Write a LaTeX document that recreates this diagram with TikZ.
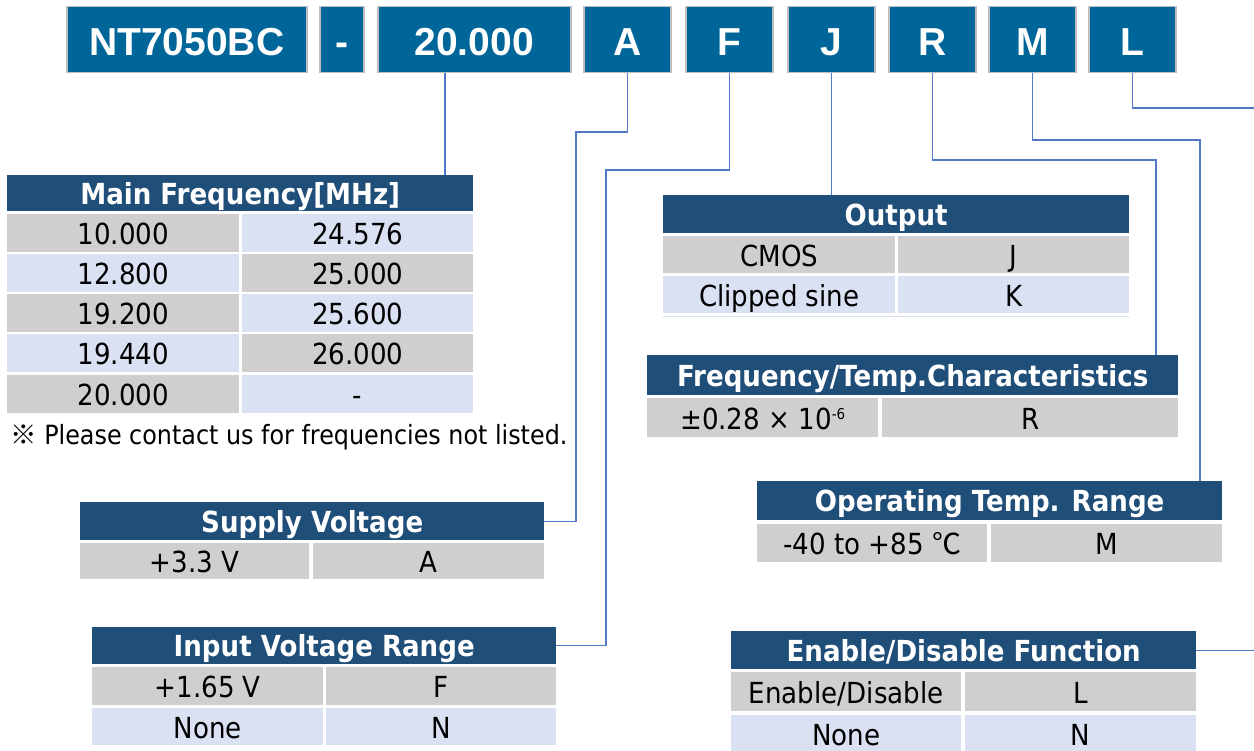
\documentclass[tikz,border=0pt]{standalone}
\usepackage{fontspec}
\usepackage{tikz}
\usetikzlibrary{positioning}
\newfontfamily\tabfont[FakeStretch=0.9]{DejaVu Sans}
\newfontfamily\codefamily{Liberation Sans}
\newfontfamily\cjk{Noto Sans CJK JP}
\definecolor{codeblue}{RGB}{0,102,153}
\definecolor{codeedge}{RGB}{190,190,190}
\definecolor{headblue}{RGB}{31,78,121}
\definecolor{cellgray}{RGB}{208,206,206}
\definecolor{cellblue}{RGB}{217,225,242}
\definecolor{linkblue}{RGB}{82,120,200}
\tikzset{
    code/.style={draw=codeedge, line width=1.5pt, fill=codeblue, text=white, anchor=north west, inner sep=0pt, minimum height=66, text height=32pt, text depth=0pt, font=\codefamily\bfseries\fontsize{39}{42}\selectfont},
    head/.style={fill=headblue, text=white, anchor=north west, inner sep=0pt, minimum width=466, minimum height=38, text height=22pt, text depth=0pt, font=\tabfont\bfseries\fontsize{29}{32}\selectfont},
    grey/.style={fill=cellgray, anchor=north west, inner sep=0pt, minimum height=38, text height=23pt, text depth=0pt, font=\tabfont\fontsize{29}{32}\selectfont},
    lite/.style={grey, fill=cellblue},
    conn/.style={-, linkblue, line width=1.2pt},
}
\newcommand{\smallexp}[1]{\raisebox{10pt}{\fontsize{15}{15}\selectfont #1}}

\begin{document}
\begin{tikzpicture}[x=1pt, y=-1pt]
    \useasboundingbox (0,0) rectangle (1254,751);

    % part number
    \node[code, minimum width=240] (cBase) at (66,6) {NT7050BC};
    \node[code, minimum width=44] (cDash) at (319,6) {-};
    \node[code, minimum width=193] (cFreq) at (377,6) {20.000};
    \node[code, minimum width=87] (cA) at (583,6) {A};
    \node[code, minimum width=87] (cF) at (685,6) {F};
    \node[code, minimum width=87] (cJ) at (787,6) {J};
    \node[code, minimum width=87] (cR) at (888,6) {R};
    \node[code, minimum width=87] (cM) at (988,6) {M};
    \node[code, minimum width=87] (cL) at (1088,6) {L};

    % main frequency
    \node[head, minimum height=36] (mfHead) at (7,175) {Main Frequency[MHz]};
    \node[grey, minimum width=232] (mf11) at (7,214) {10.000};
    \node[lite, minimum width=231] (mf12) at (242,214) {24.576};
    \node[lite, minimum width=232] (mf21) at (7,254) {12.800};
    \node[grey, minimum width=231] (mf22) at (242,254) {25.000};
    \node[grey, minimum width=232] (mf31) at (7,294) {19.200};
    \node[lite, minimum width=231] (mf32) at (242,294) {25.600};
    \node[lite, minimum width=232] (mf41) at (7,334) {19.440};
    \node[grey, minimum width=231] (mf42) at (242,334) {26.000};
    \node[grey, minimum width=232] (mf51) at (7,375) {20.000};
    \node[lite, minimum width=231] (mf52) at (242,375) {-};
    \node[anchor=west, inner sep=0pt, font=\tabfont\fontsize{26.5}{28}\selectfont] (mfNote) at (10,437) {{\cjk ※} Please contact us for frequencies not listed.};

    % output
    \node[head] (outHead) at (663,195) {Output};
    \node[grey, minimum width=232, minimum height=37] (out11) at (663,236) {CMOS};
    \node[grey, minimum width=231, minimum height=37] (out12) at (898,236) {J};
    \node[lite, minimum width=232, minimum height=37] (out21) at (663,276) {Clipped sine};
    \node[lite, minimum width=231, minimum height=37] (out22) at (898,276) {K};
    \draw[cellblue, line width=1.5pt] ([yshift=-3pt]out21.south west) -- ([yshift=-3pt]out22.south east);

    % frequency / temp
    \node[head, minimum width=531, minimum height=40] (ftHead) at (647,355) {Frequency/Temp.Characteristics};
    \node[grey, minimum width=231, minimum height=39] (ft11) at (647,398) {±0.28 × 10\smallexp{-6}};
    \node[grey, minimum width=296, minimum height=39] (ft12) at (882,398) {R};

    % operating temp
    \node[head, minimum width=465, minimum height=39] (otHead) at (757,481) {Operating Temp. Range};
    \node[grey, minimum width=230] (ot11) at (757,524) {-40 to +85 {\cjk ℃}};
    \node[grey, minimum width=231] (ot12) at (991,524) {M};

    % supply voltage
    \node[head, minimum width=464] (svHead) at (80,502) {Supply Voltage};
    \node[grey, minimum width=229, minimum height=36] (sv11) at (80,543) {+3.3 V};
    \node[grey, minimum width=231, minimum height=36] (sv12) at (313,543) {A};

    % input voltage
    \node[head, minimum width=464, minimum height=37] (ivHead) at (92,627) {Input Voltage Range};
    \node[grey, minimum width=231] (iv11) at (92,667) {+1.65 V};
    \node[grey, minimum width=230] (iv12) at (326,667) {F};
    \node[lite, minimum width=231, minimum height=37] (iv21) at (92,708) {None};
    \node[lite, minimum width=230, minimum height=37] (iv22) at (326,708) {N};

    % enable / disable
    \node[head, minimum width=465] (edHead) at (731,631) {Enable/Disable Function};
    \node[grey, minimum width=230, minimum height=39] (ed11) at (731,672) {Enable/Disable};
    \node[grey, minimum width=231, minimum height=39] (ed12) at (965,672) {L};
    \node[lite, minimum width=230, minimum height=37] (ed21) at (731,715) {None};
    \node[lite, minimum width=231, minimum height=37] (ed22) at (965,715) {N};

    % bends
    \coordinate (fqTap) at (445,100);
    \coordinate (aBend) at (576,132);
    \coordinate (fBend) at (606,170);
    \coordinate (rBend) at (1156,160);
    \coordinate (mBend) at (1200,140);
    \coordinate (lEnd) at (1254,108);

    \draw[conn] (cFreq.south -| fqTap) -- (fqTap |- mfHead.north);
    \draw[conn] (cA.south) |- (aBend) |- (svHead.east);
    \draw[conn] (cF.south) |- (fBend) |- (ivHead.east);
    \draw[conn] (cJ.south) -- (cJ.south |- outHead.north);
    \draw[conn] (cR.south) |- (rBend) -- (rBend |- ftHead.north);
    \draw[conn] (cM.south) |- (mBend) -- (mBend |- otHead.north);
    \draw[conn] (cL.south) |- (lEnd);
    \draw[conn] (edHead.east) -- (edHead.east -| lEnd);
\end{tikzpicture}
\end{document}
